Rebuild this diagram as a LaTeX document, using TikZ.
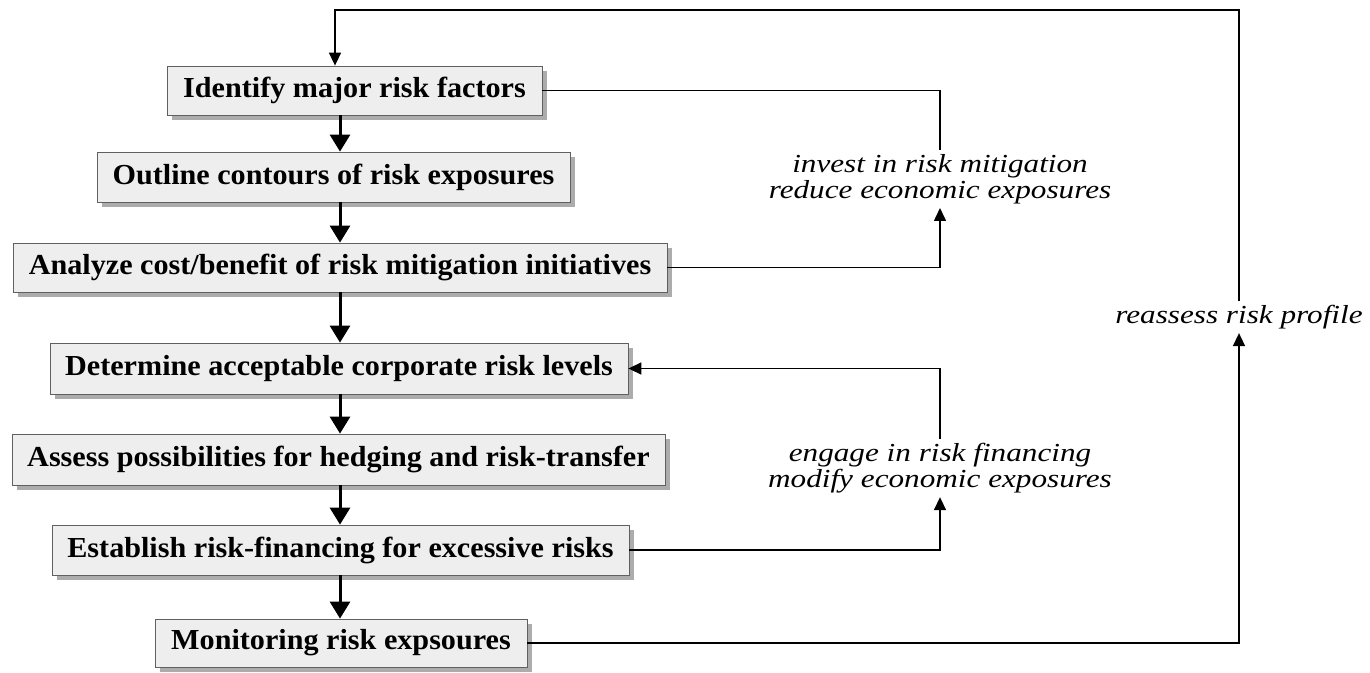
\documentclass[tikz,border=0pt]{standalone}
\usepackage{fontspec}
\setmainfont{Liberation Serif}
\newfontfamily\boxfont{Liberation Serif}[FakeStretch=1.04]
\newfontfamily\lblfont{Liberation Serif}[UprightFont={* Italic}, FakeStretch=1.2]
\usetikzlibrary{shadows,arrows.meta}
\begin{document}
\begin{tikzpicture}[x=1pt,y=-1pt,
  stepbox/.style={draw=gray!75!black, line width=0.8pt, fill=gray!13, inner sep=0pt,
     font=\boxfont\fontsize{29}{30}\selectfont\bfseries,
     drop shadow={shadow xshift=5pt, shadow yshift=-5pt, fill=gray!65, opacity=1}},
  lbl/.style={font=\lblfont\fontsize{26}{26}\selectfont, align=center, inner sep=4pt},
  chain/.style={line width=3pt, -{Triangle[length=17pt,width=20pt]}},
  fb/.style={line width=1.5pt, -{Triangle[length=13pt,width=12pt]}},
  fbline/.style={line width=1.5pt}]
\useasboundingbox (0,0) rectangle (1370,672);
\node[stepbox, minimum width=375pt, minimum height=49pt] (b1) at (354.5,90.5) {Identify major risk factors};
\node[stepbox, minimum width=473pt, minimum height=50pt] (b2) at (333.5,177) {Outline contours of risk exposures};
\node[stepbox, minimum width=654pt, minimum height=49pt] (b3) at (340,267.5) {Analyze cost/benefit of risk mitigation initiatives};
\node[stepbox, minimum width=578pt, minimum height=51pt] (b4) at (339,368.5) {Determine acceptable corporate risk levels};
\node[stepbox, minimum width=653pt, minimum height=51pt] (b5) at (338.5,459.5) {Assess possibilities for hedging and risk-transfer};
\node[stepbox, minimum width=577pt, minimum height=50pt] (b6) at (340.5,550) {Establish risk-financing for excessive risks};
\node[stepbox, minimum width=372pt, minimum height=48pt] (b7) at (341,643) {Monitoring risk expsoures};
\coordinate (cx) at (340,0);
\foreach \a/\b in {b1/b2,b2/b3,b3/b4,b4/b5,b5/b6,b6/b7}
  \draw[chain] (\a.south -| cx) -- (\b.north -| cx);
\node[lbl] (l1) at (940,179) {invest in risk mitigation\\reduce economic exposures};
\node[lbl] (l2) at (940,468) {engage in risk financing\\modify economic exposures};
\node[lbl] (l3) at (1239,317) {reassess risk profile};
\draw[fbline] (b1.east) -| (l1.north);
\draw[fb] (b3.east) -| (l1.south);
\draw[fb] (l2.north) |- (b4.east);
\draw[fb] (b6.east) -| (l2.south);
\draw[fb] (b7.east) -| (l3.south);
\coordinate (t1) at (335,10);
\draw[fb] (l3.north) |- (t1) -- (t1 |- b1.north);
\end{tikzpicture}
\end{document}
